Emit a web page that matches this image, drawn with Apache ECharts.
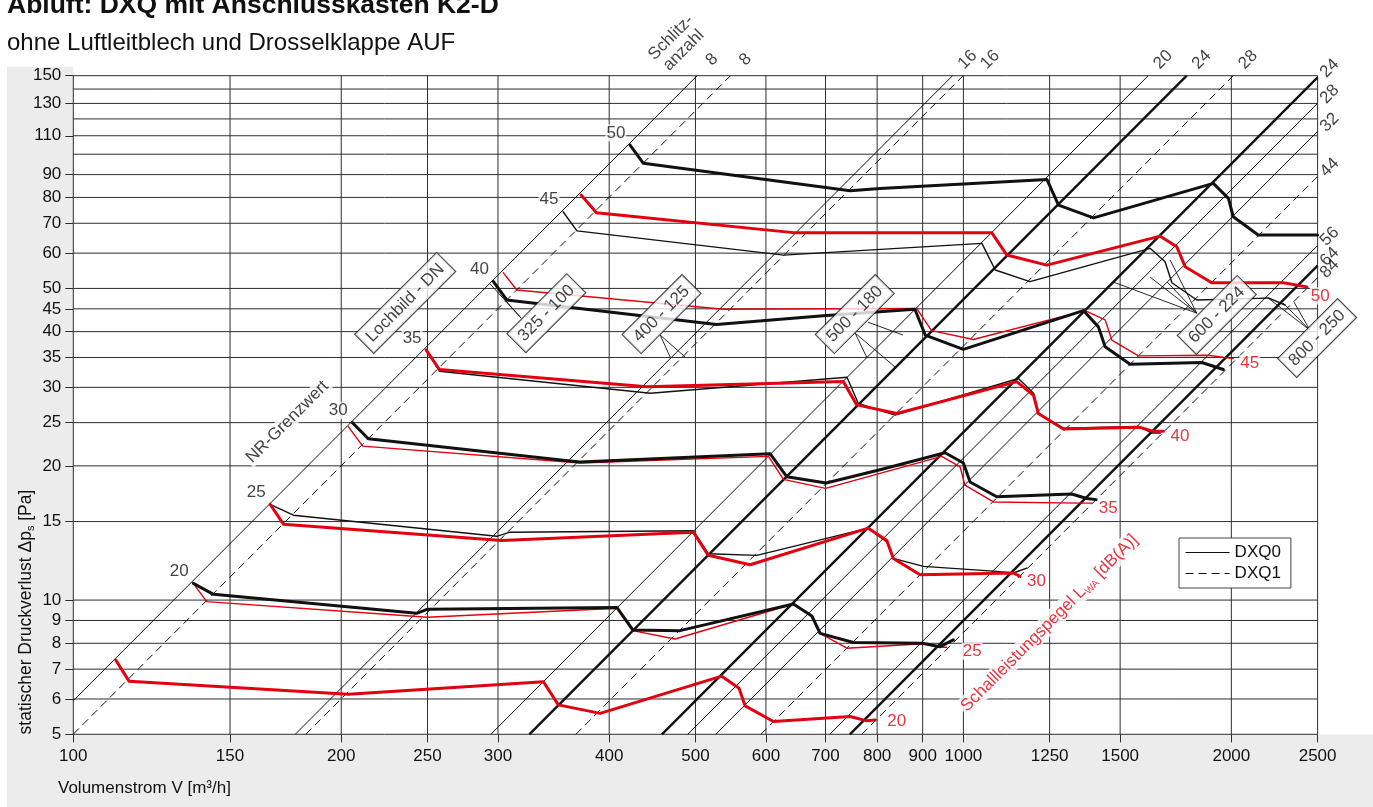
<!DOCTYPE html>
<html lang="de">
<head>
<meta charset="utf-8">
<title>Abluft: DXQ mit Anschlusskasten K2-D</title>
<script src="https://cdn.jsdelivr.net/npm/echarts@6/dist/echarts.min.js"></script>
<style>
  html, body { margin: 0; padding: 0; background: #fff; }
  #chart { width: 1373px; height: 807px; }
</style>
</head>
<body>
<div id="chart"></div>
<script>
// Achsenteilung: Volumenstrom [m³/h] und statischer Druckverlust [Pa]
const flowTicks = [100, 150, 200, 250, 300, 400, 500, 600, 700, 800, 900, 1000, 1250, 1500, 2000, 2500];
const pressureTicks = [5, 6, 7, 8, 9, 10, 15, 20, 25, 30, 35, 40, 45, 50, 60, 70, 80, 90, 110, 130, 150];
const pressureGridLines = [100, 120, 140];

// Kennlinien Δp ~ V² je Schlitzanzahl: Volumenstrom bei 100 Pa
const slotFlowAt100Pa = [410, 447, 794, 816, 1317, 1455, 1641, 2050, 2192, 2357, 2648, 3165, 3334, 3439];
const slotCounts = ['8', '8', '16', '16', '20', '24', '28', '24', '28', '32', '44', '56', '64', '84'];
const slotType = ['DXQ0', 'DXQ1', 'DXQ0', 'DXQ1', 'DXQ0', 'DXQ0', 'DXQ1', 'DXQ0', 'DXQ0', 'DXQ0', 'DXQ1', 'DXQ0', 'DXQ0', 'DXQ1'];

// NR-Kurven (schwarz), [V, Δp]
const blackNR50 = [[422, 104.9], [437, 95.4], [746, 82.8], [806, 83.8], [1241, 87.8], [1279, 76.9], [1400, 72.0], [1909, 86.0], [1985, 79.6], [2010, 72.4], [2144, 65.9], [2500, 65.9]];
const blackNR45 = [[355, 74.3], [368, 67.3], [628, 59.4], [1049, 63.1], [1086, 55.0], [1188, 51.8], [1621, 61.5], [1685, 57.4], [1715, 51.5], [1829, 47.1], [2144, 47.5], [2201, 47.6], [2298, 45.9]];
const blackNR40 = [[296.5, 51.8], [306.9, 47.1], [528, 41.5], [696, 43.4], [882, 44.9], [906, 39.3], [1000, 36.5], [1364, 44.6], [1418, 41.0], [1443, 37.0], [1539, 33.8], [1853, 34.1], [1959, 32.9]];
const blackNR35 = [[249.1, 36.4], [257.8, 32.6], [445, 29.1], [740, 31.6], [762, 27.6], [838, 26.0], [1153, 31.4], [1199, 29.1], [1214, 26.2], [1295, 24.3], [1573, 24.5], [1628, 23.7], [1664, 23.7]];
const blackNR30 = [[205.8, 25.0], [214.5, 23.0], [361.5, 20.5], [371, 20.4], [606.5, 21.3], [633.4, 18.9], [701, 18.3], [806, 19.6], [953.7, 21.4], [1000, 20.3], [1017.5, 18.4], [1090, 17.05], [1323.5, 17.3], [1376, 16.9], [1409.5, 16.8]];
const blackNR25 = [[166.4, 16.4], [176.7, 15.5], [299, 13.9], [309.5, 14.2], [497.3, 14.3], [517, 12.7], [586, 12.6], [782, 14.5], [820, 13.5], [834, 12.4], [901.7, 11.9], [1090, 11.6], [1138, 11.5], [1178, 11.8]];
const blackNR20 = [[136.4, 10.9], [143.7, 10.3], [243.1, 9.34], [250.1, 9.54], [408, 9.63], [425.2, 8.57], [480.4, 8.54], [644.2, 9.8], [675.7, 9.21], [690.3, 8.42], [752.4, 8.03], [899, 8.0], [941.4, 7.86], [974.4, 8.14]];

// Schallleistungspegel-Kurven (rot), [V, Δp]
const redLwa50 = [[372, 81.0], [387, 73.9], [644, 66.7], [1076, 66.7], [1119, 59.4], [1241, 56.4], [1664, 65.5], [1737, 62.0], [1775, 55.9], [1901, 51.5], [2288, 51.5], [2431, 50.4]];
const redLwa45 = [[304.2, 54.2], [315, 49.6], [537.5, 44.9], [886, 45.1], [921, 40.2], [1026, 38.4], [1370, 44.6], [1443, 42.5], [1468, 38.3], [1573, 35.3], [1884, 35.4], [2010, 34.8]];
const redLwa40 = [[249.1, 36.4], [257.8, 32.9], [441, 30.1], [733, 30.9], [759, 27.4], [842, 26.2], [1148, 30.9], [1199, 28.8], [1214, 26.2], [1295, 24.2], [1580, 24.4], [1635, 23.9], [1678, 23.9]];
const redLwa35 = [[203.7, 24.5], [211.4, 22.15], [371, 20.3], [603.9, 21.0], [627.8, 18.65], [700, 17.8], [945.5, 21.0], [991.5, 19.9], [1004, 18.1], [1080.7, 16.6], [1352, 16.5], [1394, 16.5]];
const redLwa30 = [[166.4, 16.4], [172.2, 14.8], [303, 13.6], [497.3, 14.2], [517, 12.6], [576, 12.0], [782, 14.5], [820.3, 13.6], [834.4, 12.4], [894, 11.4], [1138, 11.5], [1158, 11.3]];
const redLwa25 = [[136.4, 10.9], [141.2, 9.92], [250, 9.15], [408, 9.59], [425, 8.54], [474.3, 8.18], [644.2, 9.8], [675.7, 9.21], [690.3, 8.42], [739.7, 7.80], [901, 7.98], [941, 7.84], [957.9, 7.84]];
const redLwa20 = [[111.6, 7.34], [115.5, 6.58], [203.7, 6.15], [337.4, 6.56], [350.7, 5.82], [390.7, 5.57], [535.2, 6.75], [559.7, 6.34], [568.6, 5.79], [611.8, 5.34], [746, 5.48], [779, 5.36], [796, 5.38]];

// Zuordnungslinien Lochbild - DN, [V, Δp]
const leaderLines = [
  [[318.5, 42.9], [293.9, 51.2]], [[318.5, 42.9], [305.6, 47.1]],
  [[456.4, 39.3], [468.3, 35.1]], [[456.4, 39.3], [486.8, 35.1]],
  [[755.8, 39.7], [779.5, 34.9]], [[755.8, 39.7], [838.2, 33.3]], [[781.5, 42.0], [855.5, 39.3]],
  [[1829, 44.0], [1473, 51.7]], [[1829, 44.0], [1621, 53.0]], [[1829, 44.0], [1694, 51.7]], [[1829, 44.0], [1707, 57.9]],
  [[2451, 40.3], [2199, 47.6]], [[2451, 40.3], [2286, 46.4]], [[2451, 40.3], [2352, 46.6]]
];

// ---------------------------------------------------------------------------
const FONT = '"Liberation Sans", Arial, Helvetica, sans-serif';
const INK = '#111111';
const RED = '#e3000f';
const GRID = '#2e2e2e';
const PAGE_W = 1373, PAGE_H = 807;
const plot = { left: 73.3, top: 75.7, width: 1244.3, height: 658.6 };

const vMin = flowTicks[0], vMax = flowTicks[flowTicks.length - 1];
const pMin = pressureTicks[0], pMax = pressureTicks[pressureTicks.length - 1];

const chart = echarts.init(document.getElementById('chart'));

function path(name, data, lineStyle, z) {
  return { type: 'line', name, data, z, symbol: 'none', showSymbol: false, silent: true, clip: false,
           itemStyle: { color: lineStyle.color }, lineStyle, emphasis: { disabled: true } };
}
function labelLayer(data, label, z) {
  return { type: 'scatter', data, symbolSize: 0, clip: false, silent: true, z: z || 6,
           itemStyle: { color: 'transparent' }, emphasis: { disabled: true },
           label: Object.assign({ show: true, formatter: '{b}', fontFamily: FONT, fontSize: 17, color: INK }, label) };
}
// screen-space shift for a label that is turned by 45°
function shift45(dx, dy) {
  return [(dx - dy) * Math.SQRT1_2, (dx + dy) * Math.SQRT1_2];
}

const series = [];

// Raster
pressureTicks.concat(pressureGridLines).forEach(p =>
  series.push(path('', [[vMin, p], [vMax, p]], { color: GRID, width: 1 }, 1)));
flowTicks.forEach(v =>
  series.push(path('', [[v, pMin], [v, pMax]], { color: GRID, width: 1 }, 1)));

// Anlagenkennlinien je Schlitzanzahl, bis an den Diagrammrand
const boldSlotLines = new Set([5, 7, 12]);
const slotSegments = slotFlowAt100Pa.map(a => {
  const v0 = Math.max(vMin, a * Math.sqrt(pMin / 100));
  const v1 = Math.min(vMax, a * Math.sqrt(pMax / 100));
  return [[v0, 100 * (v0 / a) ** 2], [v1, 100 * (v1 / a) ** 2]];
});
slotSegments.forEach((seg, i) => {
  const dashed = slotType[i] === 'DXQ1';
  series.push(path(slotType[i], seg, {
    color: INK, width: dashed ? 1 : (boldSlotLines.has(i) ? 2.4 : 1), type: dashed ? [8, 5] : 'solid'
  }, 2));
});

leaderLines.forEach(seg => series.push(path('', seg, { color: INK, width: 0.9 }, 2)));

// Kurven
const curves = [
  { data: blackNR50, color: INK, bold: true, start: '50' },
  { data: blackNR45, color: INK, bold: false, start: '45' },
  { data: redLwa50, color: RED, bold: true, end: '50' },
  { data: blackNR40, color: INK, bold: true, start: '40' },
  { data: redLwa45, color: RED, bold: false, end: '45' },
  { data: blackNR35, color: INK, bold: false },
  { data: redLwa40, color: RED, bold: true, start: '35', end: '40' },
  { data: blackNR30, color: INK, bold: true, start: '30' },
  { data: redLwa35, color: RED, bold: false, end: '35' },
  { data: blackNR25, color: INK, bold: false },
  { data: redLwa30, color: RED, bold: true, start: '25', end: '30' },
  { data: blackNR20, color: INK, bold: true, start: '20' },
  { data: redLwa25, color: RED, bold: false, end: '25' },
  { data: redLwa20, color: RED, bold: true, end: '20' }
];
curves.forEach(c => series.push(path('', c.data,
  { color: c.color, width: c.bold ? 3 : 1.4, join: 'round', cap: 'round' }, c.bold ? 4 : 3)));

// Beschriftungen
const slotLabelNudge = { 3: 12 };
series.push(labelLayer(slotSegments.map((seg, i) => {
  const end = seg[1];
  const onTop = end[1] > pMax * 0.999;
  const nudge = slotLabelNudge[i] || 0;
  return { name: slotCounts[i], value: end, label: { offset: onTop ? shift45(15 + nudge, -16) : shift45(12, -9) } };
}), { position: 'inside', rotate: 45 }));

series.push(labelLayer(curves.filter(c => c.start).map(c => ({ name: c.start, value: c.data[0] })),
  { position: 'inside', offset: [-14, -12], backgroundColor: '#fff', padding: [0, 1] }));

const endLabelNudge = { '25': [9, -1], '20': [5, -4], '50': [-3, 4] };
series.push(labelLayer(curves.filter(c => c.end).map(c => {
  const n = endLabelNudge[c.end] || [0, 0];
  return { name: c.end, value: c.data[c.data.length - 1], label: { offset: [n[0], 5 + n[1]] } };
}), { position: 'right', distance: 6, color: RED, backgroundColor: '#fff', padding: [0, 1] }));

series.push(labelLayer([
  { name: 'Lochbild - DN', value: [236, 46.4] },
  { name: '325 - 100', value: [340, 44.0] },
  { name: '400 - 125', value: [458, 43.8] },
  { name: '500 - 180', value: [755, 43.8] },
  { name: '600 - 224', value: [1926, 43.6] },
  { name: '800 - 250', value: [2497, 38.7] }
], { position: 'inside', rotate: 45, backgroundColor: '#fff', borderColor: INK, borderWidth: 1, padding: [3, 6], lineHeight: 20 }, 7));

series.push(labelLayer([
  { name: 'NR-Grenzwert', value: [174, 25.1], label: { backgroundColor: '#fff', padding: [0, 2] } },
  { name: 'Schlitz-\nanzahl', value: [477, 176.7], label: { lineHeight: 18, align: 'center' } },
  { name: 'sl', value: [1249, 8.88], label: {
      formatter: 'Schallleistungspegel L{sub|WA} [dB(A)]', color: RED, backgroundColor: '#fff', padding: [0, 2],
      lineHeight: 20,
      rich: { sub: { fontSize: 10, color: RED, fontFamily: FONT, verticalAlign: 'bottom', lineHeight: 12 } } } }
], { position: 'inside', rotate: 45 }, 7));

const axisText = { fontFamily: FONT, fontSize: 17, color: INK };

chart.setOption({
  animation: false,
  backgroundColor: '#ffffff',
  grid: { left: plot.left, top: plot.top, width: plot.width, height: plot.height, containLabel: false },
  xAxis: {
    type: 'log', logBase: 10, min: vMin, max: vMax, z: 3,
    axisLine: { show: false }, splitLine: { show: false },
    minorTick: { show: false }, minorSplitLine: { show: false },
    axisTick: { show: true, customValues: flowTicks, length: 8, lineStyle: { color: GRID, width: 1 } },
    axisLabel: Object.assign({ customValues: flowTicks, margin: 14, formatter: v => String(Math.round(v)) }, axisText)
  },
  yAxis: {
    type: 'log', logBase: 10, min: pMin, max: pMax, z: 3,
    axisLine: { show: false }, splitLine: { show: false },
    minorTick: { show: false }, minorSplitLine: { show: false },
    axisTick: { show: true, customValues: pressureTicks, length: 8, lineStyle: { color: GRID, width: 1 } },
    axisLabel: Object.assign({ customValues: pressureTicks, margin: 12, formatter: v => String(Math.round(v)) }, axisText)
  },
  legend: {
    data: ['DXQ0', 'DXQ1'], orient: 'vertical', left: 1179, top: 538,
    itemWidth: 44, itemHeight: 14, itemGap: 4, padding: [6, 10, 6, 6],
    borderColor: '#444', borderWidth: 1, backgroundColor: '#fff', selectedMode: false, z: 8,
    itemStyle: { opacity: 0 },
    lineStyle: { width: 1.2 },
    textStyle: { fontFamily: FONT, fontSize: 17, color: INK }
  },
  graphic: [
    { type: 'rect', z: -1, silent: true, shape: { x: 7, y: 67, width: plot.left - 7, height: PAGE_H - 67 }, style: { fill: '#ececec' } },
    { type: 'rect', z: -1, silent: true, shape: { x: 7, y: plot.top + plot.height, width: PAGE_W - 7, height: PAGE_H - plot.top - plot.height }, style: { fill: '#ececec' } },
    { type: 'text', z: 5, x: 7, y: 5.5, style: { text: 'Abluft: DXQ mit Anschlusskasten K2-D', fill: INK, fontFamily: FONT, fontSize: 26.5, fontWeight: 'bold', align: 'left', verticalAlign: 'middle' } },
    { type: 'text', z: 5, x: 7, y: 43, style: { text: 'ohne Luftleitblech und Drosselklappe AUF', fill: INK, fontFamily: FONT, fontSize: 24, align: 'left', verticalAlign: 'middle' } },
    { type: 'text', z: 5, x: 58, y: 788, style: { text: 'Volumenstrom V [m³/h]', fill: INK, fontFamily: FONT, fontSize: 17, align: 'left', verticalAlign: 'middle' } },
    { type: 'text', z: 5, x: 26, y: 612, rotation: Math.PI / 2, style: {
        text: 'statischer Druckverlust Δp{sub|s} [Pa]', fill: INK, fontFamily: FONT, fontSize: 17.5, lineHeight: 20,
        align: 'center', verticalAlign: 'middle',
        rich: { sub: { fontSize: 11, fill: INK, fontFamily: FONT, verticalAlign: 'bottom', lineHeight: 12 } } } }
  ],
  series
});
</script>
</body>
</html>
